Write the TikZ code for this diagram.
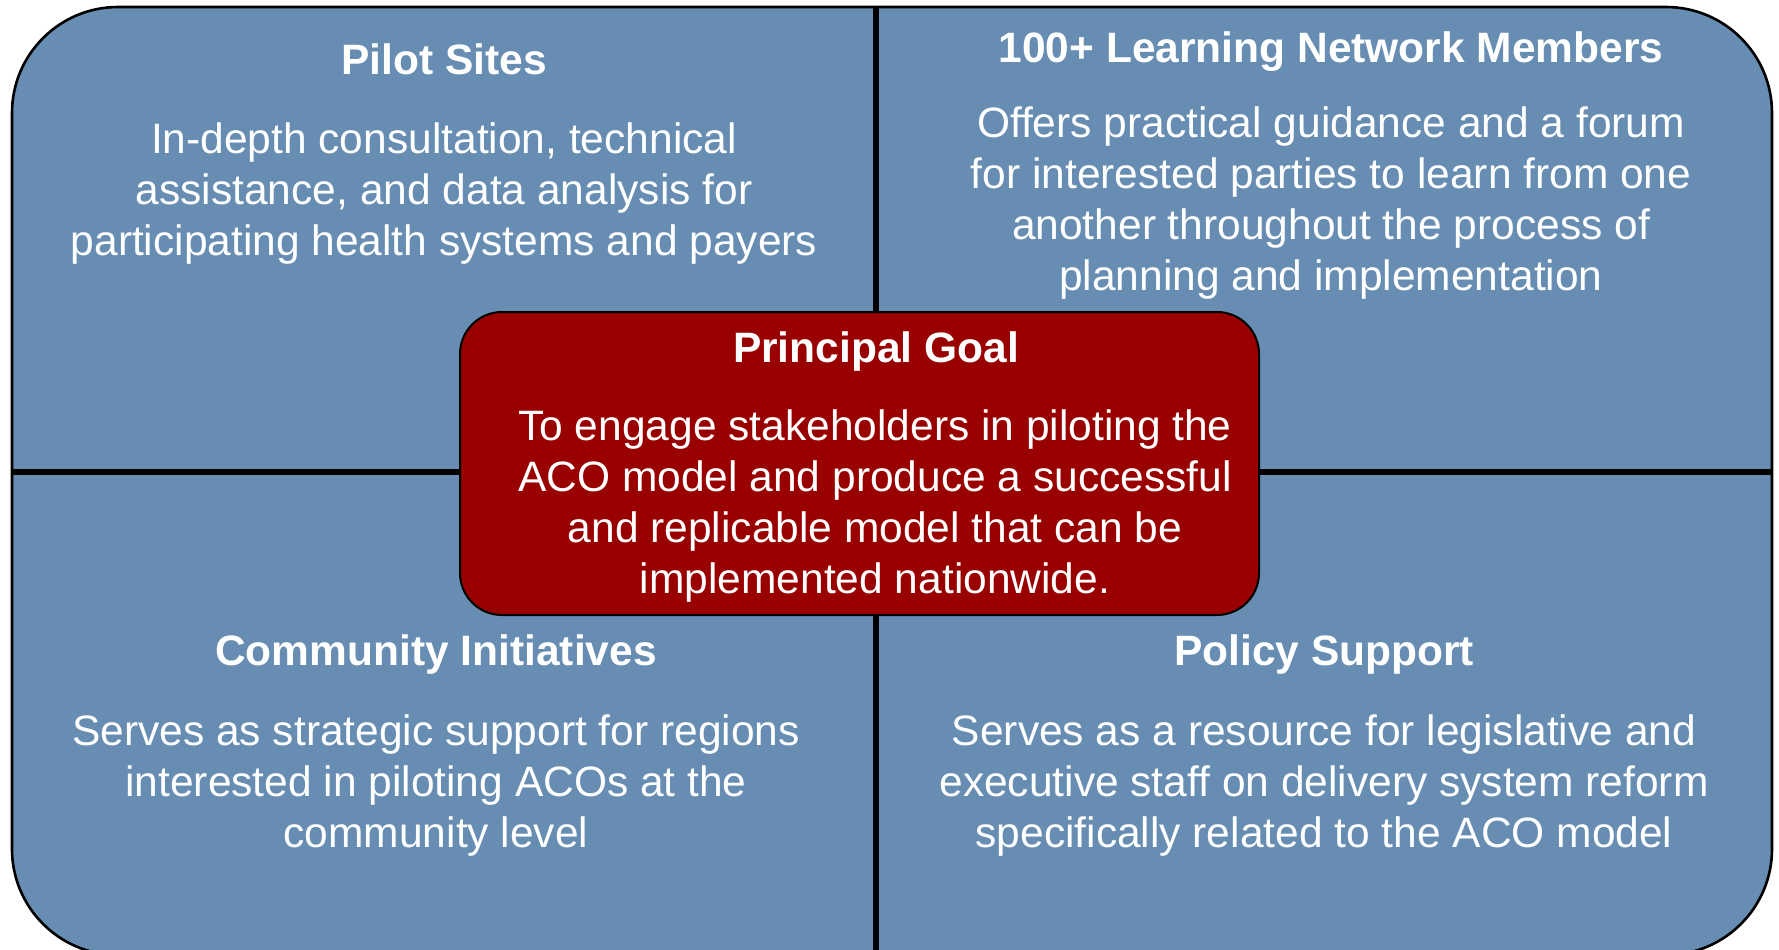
\documentclass[tikz,border=0pt]{standalone}
\usepackage{fontspec}
\setmainfont{Liberation Sans}
\definecolor{qblue}{RGB}{103,141,178}
\definecolor{goalred}{RGB}{153,0,0}
\begin{document}
\begin{tikzpicture}[x=0.5pt,y=-0.5pt,
  txt/.style={text=white, align=center, inner sep=0pt, anchor=base,
    font=\fontsize{21.25}{25.5}\selectfont},
  hdr/.style={txt, font=\fontsize{21.25}{25.5}\selectfont\bfseries},
  divider/.style={line width=2.9pt, black}]
\useasboundingbox (0,0) rectangle (1779,949);
\begin{scope}
\clip (0,0) rectangle (1779,949);
\draw[fill=qblue, line width=1.3pt, rounded corners=53pt] (12,7) rectangle (1772,955);
\draw[divider] (876,7) -- (876,955);
\draw[divider] (12,472) -- (1772,472);
\end{scope}
\draw[fill=goalred, line width=1pt, rounded corners=21pt] (460,312) rectangle (1259,615);

% body nodes: anchor base = baseline of the last line
\node[hdr] (pilotT) at (444,74) {Pilot Sites};
\node[txt] (pilotB) at (444,255) {In-depth consultation, technical\\assistance, and data analysis for\\participating health systems and payers};

\node[hdr] (netT) at (1331,62) {100+ Learning Network Members};
\node[txt] (netB) at (1331,290) {Offers practical guidance and a forum\\for interested parties to learn from one\\another throughout the process of\\planning and implementation};

\node[hdr] (goalT) at (876,362) {Principal Goal};
\node[txt] (goalB) at (875,593) {To engage stakeholders in piloting the\\ACO model and produce a successful\\and replicable model that can be\\implemented nationwide.};

\node[hdr] (commT) at (436,665) {Community Initiatives};
\node[txt] (commB) at (436,847) {Serves as strategic support for regions\\interested in piloting ACOs at the\\community level};

\node[hdr] (polT) at (1324,665) {Policy Support};
\node[txt] (polB) at (1324,847) {Serves as a resource for legislative and\\executive staff on delivery system reform\\specifically related to the ACO model};
\end{tikzpicture}
\end{document}
